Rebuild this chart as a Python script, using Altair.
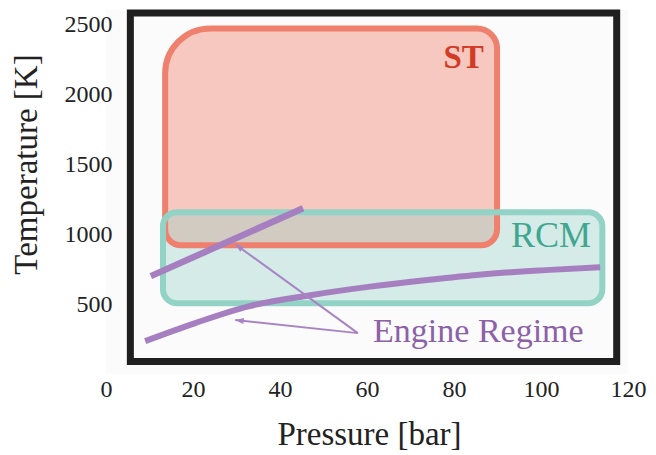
import math
import altair as alt
import pandas as pd

FONT = "Liberation Serif"

# ---- data ----
x_ticks = [0, 20, 40, 60, 80, 100, 120]
y_ticks = [500, 1000, 1500, 2000, 2500]

frame_p = [5.6, 117.4]
frame_t = [89, 2578]

st_p = [13.6, 89.9]
st_t = [920, 2468]

rcm_p = [13.1, 114.1]
rcm_t = [506, 1155]

line_p = [10.3, 45.3]
line_t = [699, 1184]

curve_p = [9, 20.5, 33, 47, 60.7, 73.3, 87, 101, 113.6]
curve_t = [235, 364, 485, 563, 624, 670, 713, 742, 763]

arrow_tip_p = [29.7, 29.7]
arrow_tip_t = [927, 385]
arrow_base_p = [57.9, 57.9]
arrow_base_t = [292, 292]

label_text = ["ST", "RCM", "Engine Regime"]
label_p = [82.2, 102.3, 61.4]
label_t = [2183, 906, 228]

# ---- scales / pixel geometry (style) ----
PX_PER_P = 4.35
PX_PER_T = 0.1402
W, H = 522, 364

xs = alt.Scale(domain=[0, 120], nice=False, zero=False)
ys = alt.Scale(domain=[0, 2600], nice=False, zero=False)

xaxis = alt.Axis(values=x_ticks, format="d", domain=False, ticks=False, tickSize=0,
                 grid=False, labelFont=FONT, labelFontSize=24, labelColor="#222222",
                 labelBaseline="alphabetic", labelPadding=22, labelAngle=0,
                 labelFlush=False, labelOverlap=False,
                 title="Pressure [bar]", titleFont=FONT, titleFontSize=33,
                 titleFontWeight="normal", titleColor="#222222", titleX=263, titleY=70,
                 titleBaseline="alphabetic", titleAlign="center")
yaxis = alt.Axis(values=y_ticks, format="d", domain=False, ticks=False, tickSize=0,
                 grid=False, labelFont=FONT, labelFontSize=24, labelColor="#222222",
                 labelPadding=0, offset=-6, labelFlush=False, labelOverlap=False,
                 title="Temperature [K]", titleFont=FONT, titleFontSize=33,
                 titleFontWeight="normal", titleColor="#222222", titleX=-76, titleY=154,
                 titleAngle=270, titleBaseline="alphabetic", titleAlign="center")


def X(f):
    return alt.X(f, type="quantitative", scale=xs, axis=xaxis)


def Y(f):
    return alt.Y(f, type="quantitative", scale=ys, axis=yaxis)


def box(p, t):
    return pd.DataFrame({"p": [p[0]], "p2": [p[1]], "t": [t[0]], "t2": [t[1]]})


frame_df = box(frame_p, frame_t)
st_df = box(st_p, st_t)
rcm_df = box(rcm_p, rcm_t)

ST_FILL, ST_STROKE = "#f6c8bf", "#ee806d"
RCM_COL = "#8fd1c4"
PURPLE = "#a67fc0"

ST_CORNERS = dict(cornerRadiusTopLeft=45, cornerRadiusTopRight=20,
                  cornerRadiusBottomLeft=16, cornerRadiusBottomRight=16)

st_fill = alt.Chart(st_df).mark_rect(fill=ST_FILL, **ST_CORNERS).encode(
    x=X("p"), x2="p2", y=Y("t"), y2="t2")

rcm_fill = alt.Chart(rcm_df).mark_rect(
    fill=RCM_COL, fillOpacity=0.36, cornerRadius=14
).encode(x=X("p"), x2="p2", y=Y("t"), y2="t2")

st_line = alt.Chart(st_df).mark_rect(
    fillOpacity=0, stroke=ST_STROKE, strokeWidth=6, **ST_CORNERS
).encode(x=X("p"), x2="p2", y=Y("t"), y2="t2")

rcm_line = alt.Chart(rcm_df).mark_rect(
    fillOpacity=0, stroke="#92d3c6", strokeWidth=6, cornerRadius=14
).encode(x=X("p"), x2="p2", y=Y("t"), y2="t2")

frame = alt.Chart(frame_df).mark_rect(
    fillOpacity=0, stroke="#1f1f1f", strokeWidth=7, strokeJoin="miter"
).encode(x=X("p"), x2="p2", y=Y("t"), y2="t2")

straight = alt.Chart(pd.DataFrame({"p": line_p, "t": line_t})).mark_line(
    color=PURPLE, strokeWidth=6.5
).encode(x=X("p"), y=Y("t"))

curve = alt.Chart(pd.DataFrame({"p": curve_p, "t": curve_t})).mark_line(
    color=PURPLE, strokeWidth=6, interpolate="monotone"
).encode(x=X("p"), y=Y("t"))

# arrows
arr_df = pd.DataFrame({"p": arrow_base_p, "t": arrow_base_t,
                       "p2": arrow_tip_p, "t2": arrow_tip_t})
arrow_lines = alt.Chart(arr_df).mark_rule(color="#a884c4", strokeWidth=2).encode(
    x=X("p"), y=Y("t"), x2="p2", y2="t2")

head_p, head_t, head_a = [], [], []
BACK = 5.0
for bp, bt, tp, tt in zip(arrow_base_p, arrow_base_t, arrow_tip_p, arrow_tip_t):
    dx = (tp - bp) * PX_PER_P
    dy = -(tt - bt) * PX_PER_T
    L = math.hypot(dx, dy)
    ux, uy = dx / L, dy / L
    head_p.append(tp - ux * BACK / PX_PER_P)
    head_t.append(tt + uy * BACK / PX_PER_T)
    head_a.append(math.degrees(math.atan2(ux, -uy)) % 360)
heads = alt.Chart(pd.DataFrame({"p": head_p, "t": head_t, "a": head_a})).mark_point(
    shape="M0,-1L0.6,0.7L-0.6,0.7Z", filled=True, size=100, color="#a884c4", opacity=1
).encode(x=X("p"), y=Y("t"), angle=alt.Angle("a:Q", scale=None))

lab_df = pd.DataFrame({"p": label_p, "t": label_t, "s": label_text})
st_text = alt.Chart(lab_df[lab_df.s == "ST"]).mark_text(
    font=FONT, fontSize=33, fontWeight="bold", color="#d23b25",
    align="center", baseline="alphabetic"
).encode(x=X("p"), y=Y("t"), text="s:N")
rcm_text = alt.Chart(lab_df[lab_df.s == "RCM"]).mark_text(
    font=FONT, fontSize=36, color="#41a690", align="center", baseline="alphabetic"
).encode(x=X("p"), y=Y("t"), text="s:N")
eng_text = alt.Chart(lab_df[lab_df.s == "Engine Regime"]).mark_text(
    font=FONT, fontSize=34, color="#8c61a8", align="left", baseline="alphabetic"
).encode(x=X("p"), y=Y("t"), text="s:N")

chart = alt.layer(
    st_fill, rcm_fill, st_line, rcm_line, straight, curve, arrow_lines, heads,
    st_text, rcm_text, eng_text, frame
).properties(
    width=W, height=H,
    autosize=alt.AutoSizeParams(type="none"),
    padding={"left": 98, "top": 2, "right": 20, "bottom": 77},
    background="white",
).configure_view(fill="#fbfbfb", strokeWidth=0)

chart.save("out.html", embed_options={"renderer": "svg", "actions": False})
